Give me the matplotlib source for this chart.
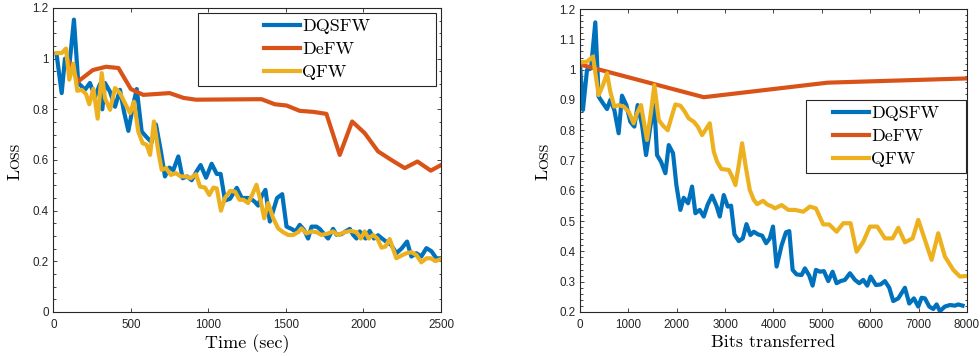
import matplotlib
matplotlib.use("Agg")
import matplotlib.pyplot as plt
from matplotlib.patches import Rectangle
from matplotlib.ticker import MultipleLocator, FuncFormatter

# ---- loss vs. wall-clock time ----
time_dq = [21, 54, 75, 103, 133, 161, 204, 236, 269, 301, 316, 333, 365, 398, 430, 456, 484, 516, 538, 570,
           602, 634, 662, 692, 720, 748, 774, 806, 834, 864, 892, 925, 950, 985, 1021, 1054, 1079, 1107, 1140, 1183,
           1215, 1267, 1299, 1321, 1342, 1368, 1396, 1418, 1443, 1476, 1504, 1536, 1562, 1589, 1617, 1643, 1665, 1697, 1718, 1750,
           1772, 1804, 1826, 1858, 1884, 1912, 1933, 1955, 1976, 2013, 2040, 2068, 2094, 2120, 2148, 2180, 2212, 2245, 2281, 2309,
           2341, 2373, 2406, 2438, 2470, 2500]
loss_dq = [1.018, 0.864, 1.0, 0.97, 1.154, 0.904, 0.877, 0.904, 0.85, 0.90, 0.80, 0.904, 0.87, 0.81, 0.877, 0.79, 0.715, 0.82, 0.88, 0.712,
           0.69, 0.67, 0.74, 0.64, 0.535, 0.57, 0.56, 0.614, 0.528, 0.535, 0.52, 0.556, 0.58, 0.53, 0.585, 0.545, 0.545, 0.44, 0.447, 0.49,
           0.45, 0.45, 0.435, 0.42, 0.456, 0.482, 0.357, 0.40, 0.45, 0.465, 0.337, 0.328, 0.318, 0.344, 0.324, 0.29, 0.337, 0.337, 0.328, 0.305,
           0.29, 0.328, 0.305, 0.307, 0.318, 0.328, 0.305, 0.29, 0.318, 0.29, 0.32, 0.29, 0.303, 0.29, 0.277, 0.264, 0.232, 0.25, 0.278, 0.219,
           0.232, 0.219, 0.252, 0.24, 0.212, 0.212]

time_de = [90, 160, 255, 340, 420, 500, 580, 750, 840, 920, 1342, 1428, 1504, 1589, 1675, 1761, 1847, 1927, 2008, 2094,
           2180, 2266, 2348, 2434, 2500]
loss_de = [1.0, 0.91, 0.955, 0.968, 0.963, 0.88, 0.857, 0.864, 0.845, 0.838, 0.84, 0.82, 0.815, 0.794, 0.79, 0.782, 0.62, 0.752, 0.706, 0.634,
           0.60, 0.568, 0.594, 0.558, 0.58]

time_q = [21, 54, 82, 103, 129, 155, 183, 211, 232, 258, 286, 312, 333, 366, 398, 430, 462, 495, 520, 548,
          576, 602, 624, 649, 677, 699, 727, 757, 791, 821, 856, 886, 920, 946, 978, 1006, 1032, 1054, 1081, 1107,
          1140, 1172, 1200, 1226, 1256, 1282, 1310, 1338, 1360, 1385, 1418, 1450, 1482, 1514, 1546, 1579, 1600, 1632, 1665, 1697,
          1729, 1772, 1804, 1836, 1879, 1918, 1955, 1983, 2008, 2034, 2062, 2090, 2116, 2141, 2169, 2212, 2245, 2277, 2309, 2341,
          2373, 2406, 2434, 2464, 2500]
loss_q = [1.022, 1.022, 1.04, 0.917, 0.98, 0.873, 0.877, 0.86, 0.82, 0.881, 0.763, 0.943, 0.844, 0.798, 0.884, 0.864, 0.824, 0.785, 0.83, 0.712,
          0.666, 0.66, 0.62, 0.752, 0.634, 0.561, 0.568, 0.541, 0.548, 0.535, 0.535, 0.528, 0.544, 0.495, 0.491, 0.462, 0.491, 0.488, 0.40, 0.45,
          0.478, 0.475, 0.443, 0.443, 0.43, 0.462, 0.502, 0.436, 0.37, 0.43, 0.37, 0.33, 0.315, 0.304, 0.304, 0.315, 0.33, 0.31, 0.318, 0.315,
          0.304, 0.31, 0.318, 0.304, 0.315, 0.32, 0.315, 0.29, 0.318, 0.29, 0.304, 0.29, 0.254, 0.258, 0.288, 0.212, 0.223, 0.232, 0.236, 0.225,
          0.196, 0.212, 0.212, 0.201, 0.209]

# ---- loss vs. communicated bits ----
bits_dq = [0, 62, 145, 228, 317, 386, 476, 559, 628, 710, 800, 869, 959, 1041, 1124, 1193, 1283, 1366, 1455, 1538,
           1593, 1676, 1766, 1835, 1924, 1993, 2076, 2145, 2235, 2317, 2386, 2476, 2559, 2641, 2731, 2821, 2890, 2973, 3055, 3124,
           3193, 3283, 3366, 3442, 3524, 3593, 3683, 3766, 3848, 3924, 3990, 4065, 4168, 4258, 4327, 4396, 4478, 4582, 4650, 4740,
           4809, 4878, 4960, 5043, 5133, 5222, 5305, 5388, 5477, 5581, 5684, 5774, 5856, 5939, 6008, 6118, 6214, 6304, 6394, 6476,
           6580, 6717, 6807, 6903, 6993, 7062, 7131, 7220, 7303, 7372, 7441, 7544, 7648, 7751, 7820, 7909]
bloss_dq = [1.021, 0.867, 0.999, 1.004, 1.156, 0.911, 0.889, 0.87, 0.90, 0.867, 0.79, 0.914, 0.883, 0.828, 0.812, 0.883, 0.817, 0.718, 0.812, 0.883,
            0.718, 0.696, 0.658, 0.751, 0.724, 0.619, 0.537, 0.577, 0.559, 0.614, 0.526, 0.537, 0.515, 0.555, 0.584, 0.551, 0.515, 0.586, 0.548, 0.551,
            0.456, 0.434, 0.443, 0.49, 0.454, 0.465, 0.456, 0.452, 0.427, 0.443, 0.482, 0.35, 0.42, 0.463, 0.467, 0.339, 0.324, 0.322, 0.344, 0.32,
            0.287, 0.339, 0.333, 0.335, 0.302, 0.333, 0.295, 0.302, 0.306, 0.328, 0.306, 0.295, 0.306, 0.287, 0.317, 0.289, 0.291, 0.302, 0.28, 0.236,
            0.245, 0.28, 0.228, 0.245, 0.218, 0.247, 0.245, 0.218, 0.21, 0.225, 0.203, 0.218, 0.223, 0.221, 0.225, 0.221]

bits_de = [0, 2560, 5120, 8000]
bloss_de = [1.017, 0.909, 0.957, 0.971]

bits_q = [0, 145, 269, 386, 476, 559, 628, 710, 800, 904, 1007, 1110, 1179, 1262, 1386, 1469, 1538, 1628, 1717, 1814,
          1904, 1972, 2076, 2159, 2248, 2352, 2435, 2524, 2614, 2683, 2766, 2835, 2924, 3076, 3145, 3214, 3283, 3352, 3421, 3510,
          3593, 3662, 3786, 3869, 3973, 4030, 4168, 4306, 4444, 4616, 4754, 4878, 5029, 5153, 5305, 5443, 5594, 5718, 5856, 5994,
          6146, 6304, 6463, 6580, 6717, 6876, 6993, 7131, 7269, 7406, 7544, 7717, 7854, 8000]
bloss_q = [1.024, 1.026, 1.043, 0.916, 0.949, 0.988, 0.927, 0.878, 0.883, 0.878, 0.861, 0.823, 0.856, 0.883, 0.768, 0.861, 0.949, 0.834, 0.815, 0.80,
           0.85, 0.885, 0.881, 0.863, 0.839, 0.828, 0.812, 0.784, 0.806, 0.823, 0.729, 0.696, 0.672, 0.669, 0.647, 0.619, 0.685, 0.757, 0.685, 0.603,
           0.57, 0.556, 0.567, 0.555, 0.548, 0.542, 0.553, 0.537, 0.537, 0.531, 0.548, 0.542, 0.489, 0.489, 0.465, 0.493, 0.493, 0.399, 0.432, 0.482,
           0.482, 0.443, 0.443, 0.478, 0.43, 0.443, 0.504, 0.438, 0.372, 0.46, 0.383, 0.339, 0.317, 0.319]

labels = ["DQSFW", "DeFW", "QFW"]
colors = ["#0072BD", "#D95319", "#EDB120"]

AX_COLOR = "#262626"
SERIF = "cmr10"
TICK_FONT = "Liberation Sans"
LW = 3.0

fig = plt.figure(figsize=(9.8, 3.56), dpi=100)
ax1 = fig.add_axes([0.0544, 0.1236, 0.3956, 0.854])
ax2 = fig.add_axes([0.5918, 0.1236, 0.3949, 0.851])


def style_axes(ax, ymajor, yminor):
    for s in ax.spines.values():
        s.set_color(AX_COLOR)
        s.set_linewidth(0.8)
    ax.yaxis.set_major_locator(MultipleLocator(ymajor))
    ax.yaxis.set_minor_locator(MultipleLocator(yminor))
    ax.yaxis.set_major_formatter(FuncFormatter(lambda v, p: "%g" % round(v, 3)))
    ax.tick_params(which="both", direction="in", top=True, right=True, color=AX_COLOR, width=0.6)
    ax.tick_params(which="major", length=3.2)
    ax.tick_params(which="minor", length=1.8)
    ax.tick_params(axis="x", which="minor", top=False, bottom=False)
    ax.tick_params(axis="x", pad=5.4)
    ax.tick_params(axis="y", pad=3.4)
    for lab in ax.get_xticklabels() + ax.get_yticklabels():
        lab.set_fontfamily(TICK_FONT)
        lab.set_fontsize(8.4)
        lab.set_color(AX_COLOR)


def small_caps_ylabel(ax, xpos, size=13):
    # "Loss" set in small caps: a full-size L followed by reduced capitals
    first = ax.text(xpos, 0.435, "L", rotation=90, transform=ax.transAxes,
                    ha="right", va="bottom", family=SERIF, fontsize=size, color="black")
    ax.annotate("OSS", xy=(1, 1), xycoords=first, rotation=90, ha="right", va="bottom",
                family=SERIF, fontsize=size * 0.78, color="black", annotation_clip=False)


def boxed_legend(ax, handles, box, center):
    x0, y0, x1, y1 = box
    ax.add_patch(Rectangle((x0, y0), x1 - x0, y1 - y0, transform=ax.transAxes,
                           facecolor="white", edgecolor=AX_COLOR, linewidth=0.8,
                           zorder=5, clip_on=False))
    leg = ax.legend(handles, labels, loc="center", bbox_to_anchor=center, frameon=False,
                    prop={"family": SERIF, "size": 13}, handlelength=2.0,
                    handletextpad=0.15, labelspacing=0.4, borderpad=0.0)
    leg.set_zorder(6)


# left panel
h1 = ax1.plot(time_dq, loss_dq, color=colors[0], lw=LW)[0]
h2 = ax1.plot(time_de, loss_de, color=colors[1], lw=LW)[0]
h3 = ax1.plot(time_q, loss_q, color=colors[2], lw=LW)[0]
ax1.set_xlim(0, 2500)
ax1.set_ylim(0, 1.2)
ax1.xaxis.set_major_locator(MultipleLocator(500))
style_axes(ax1, 0.2, 0.05)
ax1.set_xlabel("Time (sec)", family=SERIF, fontsize=13, labelpad=2)
small_caps_ylabel(ax1, -0.08)
boxed_legend(ax1, [h1, h2, h3], (0.373, 0.743, 0.987, 0.984), (0.68, 0.8635))

# right panel
g1 = ax2.plot(bits_dq, bloss_dq, color=colors[0], lw=LW)[0]
g2 = ax2.plot(bits_de, bloss_de, color=colors[1], lw=LW)[0]
g3 = ax2.plot(bits_q, bloss_q, color=colors[2], lw=LW)[0]
ax2.set_xlim(0, 8000)
ax2.set_ylim(0.2, 1.2)
ax2.xaxis.set_major_locator(MultipleLocator(1000))
style_axes(ax2, 0.1, 0.02)
ax2.set_xlabel("Bits transferred", family=SERIF, fontsize=13, labelpad=2)
small_caps_ylabel(ax2, -0.075)
x0 = (806 - 580) / 387.0
x1 = (966 - 580) / 387.0
y0 = (312 - 173) / 303.0
y1 = (312 - 100) / 303.0
boxed_legend(ax2, [g1, g2, g3], (x0, y0, x1, y1), ((x0 + x1) / 2, (y0 + y1) / 2))

fig.savefig("out.png", dpi=100)
